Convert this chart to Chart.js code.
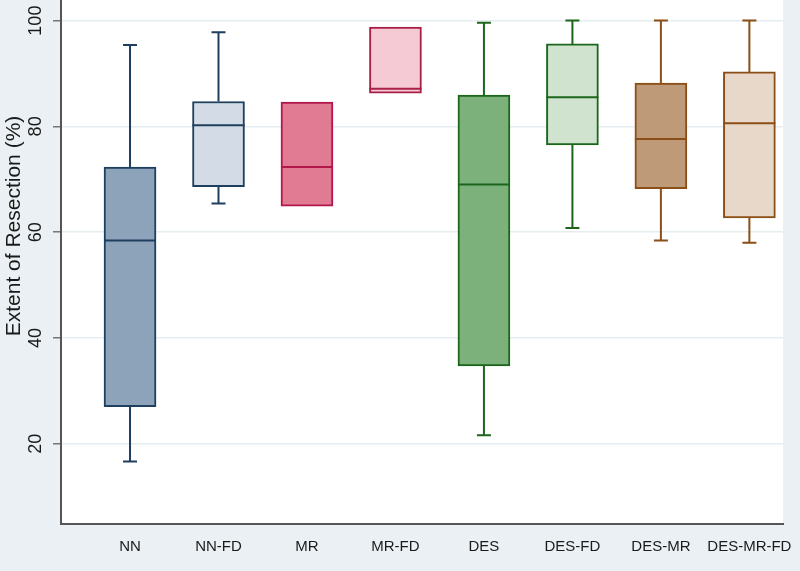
<!DOCTYPE html>
<html>
<head>
<meta charset="utf-8">
<script src="https://cdn.jsdelivr.net/npm/chart.js@4/dist/chart.umd.min.js"></script>
<style>
  html, body { margin: 0; padding: 0; background: #EAF0F3; }
  #wrap { width: 800px; height: 571px; }
</style>
</head>
<body>
<div id="wrap"><canvas id="c" width="800" height="571"></canvas></div>
<script>
const categories = ['NN', 'NN-FD', 'MR', 'MR-FD', 'DES', 'DES-FD', 'DES-MR', 'DES-MR-FD'];
const whiskerLow  = [16.6, 65.4, null, null, 21.6, 60.8, 58.4, 58.0];
const q1          = [27.0, 68.6, 64.9, 86.3, 34.7, 76.5, 68.2, 62.7];
const median      = [58.4, 80.2, 72.3, 87.1, 69.0, 85.5, 77.6, 80.6];
const q3          = [72.3, 84.7, 84.6, 98.8, 85.9, 95.6, 88.2, 90.3];
const whiskerHigh = [95.4, 97.8, null, null, 99.6, 100, 100, 100];
const yTicks = [20, 40, 60, 80, 100];
const yTitle = 'Extent of Resection (%)';

const fillColors   = ['#8CA3BA', '#D3DCE6', '#E07B93', '#F5CAD4', '#7DB17B', '#CFE3CF', '#BF9A78', '#E7D8C9'];
const borderColors = ['#1F3F5E', '#1F3F5E', '#B3174A', '#A8204A', '#1C661C', '#1C661C', '#8A4E16', '#8A4E16'];

const FONT = '"Liberation Sans", Arial, sans-serif';

const bgPlugin = {
  id: 'bg',
  beforeDraw(chart) {
    const { ctx, chartArea: a } = chart;
    ctx.save();
    ctx.fillStyle = '#FFFFFF';
    ctx.fillRect(a.left, a.top, a.right - a.left, a.bottom - a.top);
    ctx.restore();
  }
};

const boxPlugin = {
  id: 'boxparts',
  afterDatasetsDraw(chart) {
    const { ctx } = chart;
    const xs = chart.scales.x, ys = chart.scales.y;
    const meta = chart.getDatasetMeta(0);
    ctx.save();
    ctx.lineWidth = 2;
    categories.forEach((c, i) => {
      const el = meta.data[i];
      const cx = xs.getPixelForValue(i + 1);
      const hw = el.width / 2;
      ctx.strokeStyle = borderColors[i];
      const my = ys.getPixelForValue(median[i]);
      ctx.beginPath();
      ctx.moveTo(cx - hw, my); ctx.lineTo(cx + hw, my);
      ctx.stroke();
      const cap = 7;
      if (whiskerHigh[i] != null) {
        const t = ys.getPixelForValue(whiskerHigh[i]);
        const b = ys.getPixelForValue(q3[i]);
        ctx.beginPath();
        ctx.moveTo(cx, b); ctx.lineTo(cx, t);
        ctx.moveTo(cx - cap, t); ctx.lineTo(cx + cap, t);
        ctx.stroke();
      }
      if (whiskerLow[i] != null) {
        const t = ys.getPixelForValue(q1[i]);
        const b = ys.getPixelForValue(whiskerLow[i]);
        ctx.beginPath();
        ctx.moveTo(cx, t); ctx.lineTo(cx, b);
        ctx.moveTo(cx - cap, b); ctx.lineTo(cx + cap, b);
        ctx.stroke();
      }
    });
    ctx.fillStyle = '#1a1a1a';
    ctx.font = '21px ' + FONT;
    ctx.textAlign = 'center';
    ctx.textBaseline = 'middle';
    ctx.translate(14, 226);
    ctx.rotate(-Math.PI / 2);
    ctx.fillText(yTitle, 0, 0);
    ctx.restore();
  }
};

new Chart(document.getElementById('c'), {
  type: 'bar',
  data: {
    datasets: [{
      data: categories.map((c, i) => ({ x: i + 1, y: [q1[i], q3[i]] })),
      backgroundColor: fillColors,
      borderColor: borderColors,
      borderWidth: 2,
      borderSkipped: false,
      barThickness: 52
    }]
  },
  options: {
    responsive: false,
    animation: false,
    layout: { padding: { top: 0, right: 17, bottom: 0, left: 0 } },
    plugins: { legend: { display: false }, tooltip: { enabled: false } },
    scales: {
      x: {
        type: 'linear',
        offset: false,
        min: 0.22,
        max: 8.38,
        afterBuildTicks(scale) { scale.ticks = categories.map((c, i) => ({ value: i + 1 })); },
        afterFit(scale) { scale.height = 47; scale.paddingLeft = 0; scale.paddingRight = 0; },
        grid: { display: true, drawOnChartArea: false, drawTicks: false },
        border: { color: '#555555', width: 2 },
        ticks: {
          callback: (v) => categories[v - 1],
          font: { family: FONT, size: 15 },
          color: '#1a1a1a',
          padding: 14,
          autoSkip: false,
          maxRotation: 0
        }
      },
      y: {
        min: 4.8,
        max: 103.9,
        afterBuildTicks(scale) { scale.ticks = yTicks.map(v => ({ value: v })); },
        afterFit(scale) { scale.width = 61; scale.paddingTop = 0; scale.paddingBottom = 0; },
        grid: { color: '#E6EDF1', lineWidth: 1.5, tickLength: 8, tickColor: '#777777', tickWidth: 1.5 },
        border: { color: '#555555', width: 2 },
        ticks: {
          font: { family: FONT, size: 18 },
          color: '#1a1a1a',
          minRotation: 90,
          maxRotation: 90,
          crossAlign: 'center',
          padding: 2
        }
      }
    }
  },
  plugins: [bgPlugin, boxPlugin]
});
</script>
</body>
</html>
